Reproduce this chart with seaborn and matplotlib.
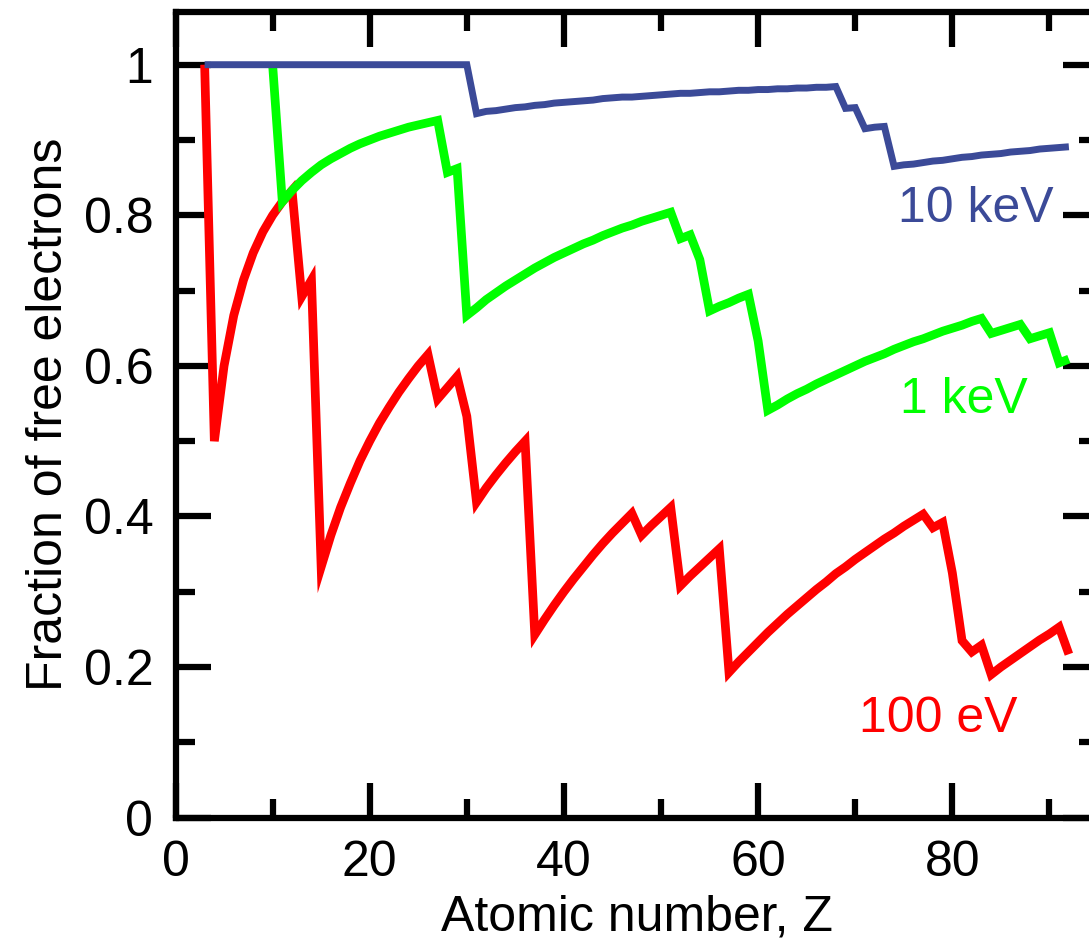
import matplotlib
matplotlib.use("Agg")
import matplotlib.pyplot as plt
from matplotlib.ticker import FixedLocator, FixedFormatter, MultipleLocator
import numpy as np
import pandas as pd
import seaborn as sns

# Atomic number of each element on the curves
atomic_number = list(range(3, 93))

nan = np.nan
# Fraction of electrons that are free at a given photon/electron energy
frac_100eV = [
    1.0, 0.5, 0.6, 0.667, 0.714, 0.75, 0.778, 0.8, 0.818, 0.833,
    0.692, 0.714, 0.333, 0.375, 0.412, 0.444, 0.474, 0.5, 0.524, 0.545,
    0.565, 0.583, 0.6, 0.615, 0.556, 0.571, 0.586, 0.533, 0.419, 0.438,
    0.455, 0.471, 0.486, 0.5, 0.243, 0.263, 0.282, 0.3, 0.317, 0.333,
    0.349, 0.364, 0.378, 0.391, 0.404, 0.375, 0.388, 0.4, 0.412, 0.308,
    0.321, 0.333, 0.345, 0.357, 0.193, 0.207, 0.220, 0.233, 0.246, 0.258,
    0.270, 0.281, 0.292, 0.303, 0.313, 0.324, 0.333, 0.343, 0.352, 0.361,
    0.370, 0.378, 0.387, 0.395, 0.403, 0.385, 0.392, 0.325, 0.235, 0.220,
    0.229, 0.190, 0.200, 0.209, 0.218, 0.227, 0.236, 0.244, 0.253, 0.217,
]
frac_1keV = [
    nan, nan, nan, nan, nan, nan, nan, 1.0, 0.818, 0.833,
    0.846, 0.857, 0.867, 0.875, 0.882, 0.889, 0.895, 0.9, 0.905, 0.909,
    0.913, 0.917, 0.92, 0.923, 0.926, 0.857, 0.862, 0.667, 0.677, 0.688,
    0.697, 0.706, 0.714, 0.722, 0.730, 0.737, 0.744, 0.75, 0.756, 0.762,
    0.767, 0.773, 0.778, 0.783, 0.787, 0.792, 0.796, 0.8, 0.804, 0.769,
    0.774, 0.741, 0.673, 0.679, 0.684, 0.690, 0.695, 0.633, 0.541, 0.548,
    0.556, 0.563, 0.569, 0.576, 0.582, 0.588, 0.594, 0.6, 0.606, 0.611,
    0.616, 0.622, 0.627, 0.632, 0.636, 0.641, 0.646, 0.65, 0.654, 0.659,
    0.663, 0.643, 0.647, 0.651, 0.655, 0.636, 0.640, 0.644, 0.604, 0.609,
]
frac_10keV = [
    1.0, 1.0, 1.0, 1.0, 1.0, 1.0, 1.0, 1.0, 1.0, 1.0,
    1.0, 1.0, 1.0, 1.0, 1.0, 1.0, 1.0, 1.0, 1.0, 1.0,
    1.0, 1.0, 1.0, 1.0, 1.0, 1.0, 1.0, 1.0, 0.935, 0.938,
    0.939, 0.941, 0.943, 0.944, 0.946, 0.947, 0.949, 0.95, 0.951, 0.952,
    0.953, 0.955, 0.956, 0.957, 0.957, 0.958, 0.959, 0.96, 0.961, 0.962,
    0.962, 0.963, 0.964, 0.964, 0.965, 0.966, 0.966, 0.967, 0.967, 0.968,
    0.968, 0.969, 0.969, 0.970, 0.970, 0.971, 0.942, 0.943, 0.915, 0.917,
    0.918, 0.865, 0.867, 0.868, 0.870, 0.872, 0.873, 0.875, 0.877, 0.878,
    0.880, 0.881, 0.882, 0.884, 0.885, 0.886, 0.888, 0.889, 0.890, 0.891,
]

energy_labels = ["100 eV", "1 keV", "10 keV"]
line_colors = ["#ff0000", "#00ff00", "#3b4a98"]
x_major_ticks = [0, 20, 40, 60, 80]
y_major_ticks = [0, 0.2, 0.4, 0.6, 0.8, 1.0]
y_tick_labels = ["0", "0.2", "0.4", "0.6", "0.8", "1"]

series = [frac_100eV, frac_1keV, frac_10keV]
df = pd.concat(
    [pd.DataFrame({"Z": atomic_number, "fraction": vals, "energy": lab})
     for vals, lab in zip(series, energy_labels)],
    ignore_index=True,
).dropna()

sns.set_theme(style="ticks")
plt.rcParams["font.family"] = ["Liberation Sans", "DejaVu Sans"]

W, H = 1089, 949
fig = plt.figure(figsize=(W / 100, H / 100), dpi=100)
x0_px, y0_px, xr_px, yt_px = 175.5, 817.6, 1098.0, 12.0
ax = fig.add_axes([x0_px / W, (H - y0_px) / H, (xr_px - x0_px) / W, (y0_px - yt_px) / H])

palette = dict(zip(energy_labels, line_colors))
sns.lineplot(
    data=df, x="Z", y="fraction", hue="energy", hue_order=energy_labels,
    palette=palette, legend=False, estimator=None, sort=False, ax=ax,
)
for line, lw in zip(ax.get_lines(), [6.3, 6.3, 5.0]):
    line.set_linewidth(lw)
    line.set_solid_joinstyle("miter")
    line.set_solid_capstyle("butt")

ax.set_xlim(0, 95)
ax.set_ylim(0, 1.07)

ax.xaxis.set_major_locator(FixedLocator(x_major_ticks))
ax.xaxis.set_minor_locator(MultipleLocator(10))
ax.yaxis.set_major_locator(FixedLocator(y_major_ticks))
ax.yaxis.set_major_formatter(FixedFormatter(y_tick_labels))
ax.yaxis.set_minor_locator(MultipleLocator(0.1))

for s in ax.spines.values():
    s.set_linewidth(4.5)
    s.set_color("black")

ax.tick_params(which="both", direction="in", top=True, right=True,
               width=4.5, color="black", labelsize=36, pad=16, labelcolor="black")
ax.tick_params(which="major", length=25)
ax.tick_params(which="minor", length=13.5)

ax.set_xlabel("Atomic number, Z", fontsize=36, color="black", labelpad=6)
ax.set_ylabel("Fraction of free electrons", fontsize=36, color="black", labelpad=8)

for lab, col, (tx, ty) in zip(energy_labels, line_colors,
                              [(78.6, 0.114), (81.2, 0.537), (82.4, 0.791)]):
    ax.text(tx, ty, lab, color=col, fontsize=36, ha="center", va="baseline")

fig.savefig("out.png", dpi=100)
